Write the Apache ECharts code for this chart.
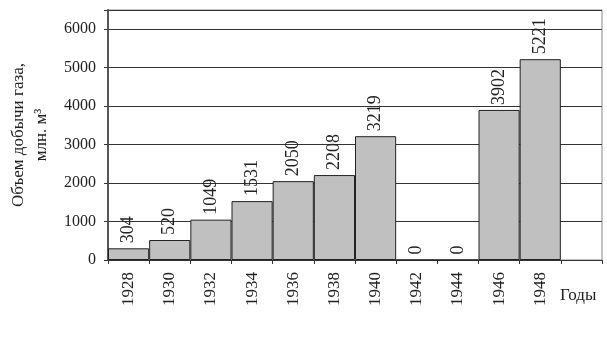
<!DOCTYPE html>
<html>
<head>
<meta charset="utf-8">
<script src="https://cdn.jsdelivr.net/npm/echarts@6/dist/echarts.min.js"></script>
<style>
  html, body { margin: 0; padding: 0; background: #fff; }
  #chart { width: 607px; height: 353px; }
</style>
</head>
<body>
<div id="chart"></div>
<script>
// годы и добыча газа, млн. м3
var years = ['1928', '1930', '1932', '1934', '1936', '1938', '1940', '1942', '1944', '1946', '1948', ''];
var gas = [304, 520, 1049, 1531, 2050, 2208, 3219, 0, 0, 3902, 5221, null];

var font = '"Liberation Serif", "DejaVu Serif", serif';
var chart = echarts.init(document.getElementById('chart'));

chart.setOption({
  animation: false,
  textStyle: { fontFamily: font },
  grid: {
    left: 108, right: 5, top: 10, bottom: 93,
    outerBoundsMode: 'none', containLabel: false,
    show: true, borderColor: '#888', borderWidth: 1
  },
  title: {
    text: 'Годы',
    left: 555, top: 282,
    textStyle: { fontFamily: font, fontSize: 17, fontWeight: 'normal', color: '#222' }
  },
  xAxis: {
    type: 'category',
    data: years,
    axisLine: { lineStyle: { color: '#333', width: 1 } },
    axisTick: { show: true, length: 4, lineStyle: { color: '#333' } },
    axisLabel: { rotate: 90, fontSize: 17, color: '#222', margin: 12, fontFamily: font }
  },
  yAxis: {
    type: 'value',
    min: 0, max: 6500, interval: 1000,
    name: 'Объем добычи газа,\nмлн. м³',
    nameLocation: 'middle',
    nameRotate: 90,
    nameGap: 54,
    nameTextStyle: { fontSize: 17, color: '#222', fontFamily: font, lineHeight: 23 },
    axisLine: { show: true, lineStyle: { color: '#555', width: 2 } },
    axisTick: { show: true, length: 4, lineStyle: { color: '#333' } },
    axisLabel: {
      fontSize: 16, color: '#222', margin: 12, fontFamily: font,
      formatter: function (v) { return v % 1000 === 0 ? String(v) : ''; }
    },
    splitLine: { lineStyle: { color: '#333', width: 1 } }
  },
  series: [{
    type: 'bar',
    data: gas,
    barCategoryGap: '0%',
    itemStyle: { color: '#c0c0c0', borderColor: '#222', borderWidth: 1 },
    label: {
      show: true,
      position: 'top',
      rotate: 90,
      align: 'left',
      verticalAlign: 'middle',
      distance: 5,
      fontSize: 18,
      color: '#222',
      fontFamily: font
    }
  }]
});
</script>
</body>
</html>
